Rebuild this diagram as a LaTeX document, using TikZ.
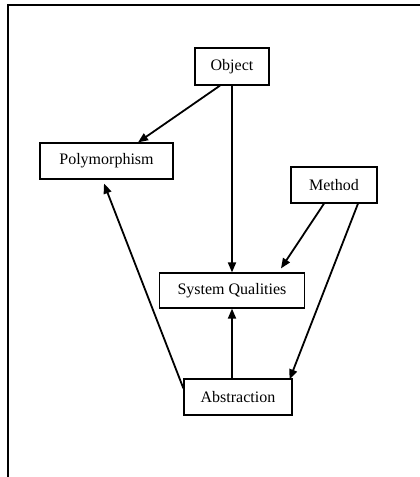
\documentclass[tikz,border=0pt]{standalone}
\usepackage{fontspec}
\setmainfont{Liberation Serif}
\usetikzlibrary{arrows.meta,calc}
\begin{document}
\begin{tikzpicture}[x=1pt,y=-1pt,
  box/.style={draw,line width=1.2pt,inner sep=0pt,font=\fontsize{16}{19}\selectfont},
  link/.style={line width=1.8pt,-{Triangle[length=10pt,width=8pt]}}]
\useasboundingbox (0,0) rectangle (420,477);
% page frame
\draw[line width=1.3pt] (420,5) -- (8,5) -- (8,477);
% concept boxes
\node[box,minimum width=74pt,minimum height=37pt] (obj) at (232,66.5) {Object};
\node[box,minimum width=133pt,minimum height=36pt] (poly) at (106.5,161) {Polymorphism};
\node[box,minimum width=86pt,minimum height=36pt] (meth) at (334,185) {Method};
\node[box,minimum width=145pt,minimum height=35pt] (sq) at (232,290.5) {System Qualities};
\node[box,minimum width=108pt,minimum height=36pt] (abs) at (238,397) {Abstraction};
% relations
\draw[link] ($(obj.south)+(-12,0)$) -- ($(poly.north)+(31.5,0)$);
\draw[link] (obj.south) -- (sq.north);
\draw[link] ($(meth.south)+(-10,0)$) -- ($(sq.north)+(49,-4)$);
\draw[link] ($(meth.south)+(24,0)$) -- ($(abs.north east)+(-3,1)$);
\draw[link] ($(abs.north west)+(0,10)$) -- ($(poly.south)+(-2.5,4)$);
\draw[link] ($(abs.north)+(-6,0)$) -- (sq.south);
\end{tikzpicture}
\end{document}
